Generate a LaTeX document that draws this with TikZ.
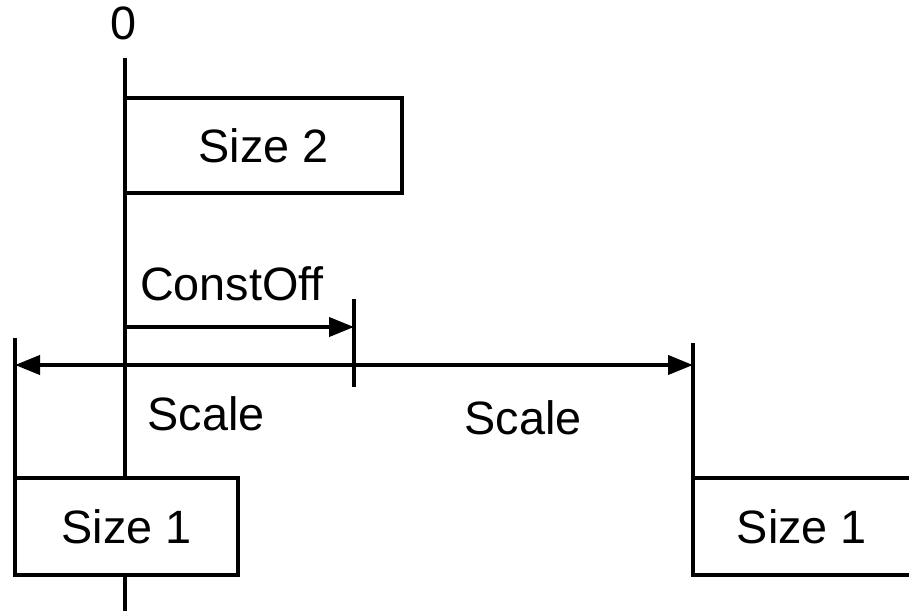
\documentclass[tikz,border=0pt]{standalone}
\usepackage{fontspec}
\setmainfont{Liberation Sans}
\usetikzlibrary{arrows.meta}
\begin{document}
\begin{tikzpicture}[x=0.5pt, y=-0.5pt, line width=2pt,
  >={Triangle[length=12.5pt, width=9.5pt]},
  lbl/.style={font=\fontsize{23.4}{28}\selectfont, inner sep=0pt},
  box/.style={draw, rectangle, inner sep=0pt, lbl}]
\useasboundingbox (0,0) rectangle (909,610);

% boxes
\node[box, minimum width=138.5pt, minimum height=47.5pt] (s2) at (263.5,145.5) {Size 2};
\node[box, minimum width=111.5pt, minimum height=48.5pt] (s1a) at (126.5,526.5) {Size 1};
\node[lbl] (s1b) at (802,526.5) {Size 1};

% right box, open beyond the edge
\coordinate (rtl) at (693,478);
\coordinate (rbl) at (693,575);
\coordinate (rtr) at (912,478);
\coordinate (rbr) at (912,575);
\draw (rtr) -- (rtl) -- (rbl) -- (rbr);

% zero axis
\coordinate (axtop) at (125,58);
\coordinate (axbot) at (125,612);
\node[lbl, anchor=base] (zero) at (124,40) {0};
\draw (axtop) -- (axtop |- s1a.north);
\draw (axtop |- s1a.south) -- (axbot);

% extension ticks
\coordinate (lt) at (15,338);
\draw (lt) -- (lt |- s1a.north);
\coordinate (rt) at (693,343);
\draw (rt) -- (rtl);
\coordinate (mtop) at (354,299);
\coordinate (mbot) at (354,387);
\draw (mtop) -- (mbot);

% dimension arrows
\coordinate (co0) at (125,327);
\draw[->] (co0) -- (co0 -| mtop);
\coordinate (sc0) at (15,365);
\draw[<->] (sc0) -- (sc0 -| rt);

% labels
\node[lbl, anchor=base] (lco) at (232,300) {ConstOff};
\node[lbl, anchor=base] (lsa) at (206,430) {Scale};
\node[lbl, anchor=base] (lsb) at (523,434) {Scale};
\end{tikzpicture}
\end{document}
